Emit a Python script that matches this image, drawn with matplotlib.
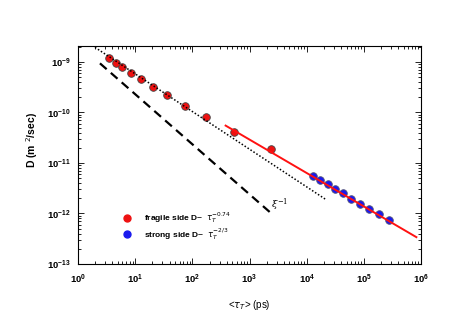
import numpy as np
import matplotlib
matplotlib.use('Agg')
import matplotlib.pyplot as plt
from matplotlib.lines import Line2D

plt.rcParams['font.family'] = ['Liberation Sans', 'DejaVu Sans']
plt.rcParams['mathtext.fontset'] = 'dejavusans'

# --- data ---
tau_fragile = [3.5, 4.6, 6.0, 8.6, 12.8, 20.7, 36, 74, 173, 527, 2370]
D_fragile = [1.22e-9, 9.7e-10, 7.9e-10, 6.0e-10, 4.5e-10, 3.16e-10, 2.2e-10,
             1.37e-10, 8.0e-11, 4.1e-11, 1.86e-11]

tau_strong = [1.3e4, 1.72e4, 2.32e4, 3.15e4, 4.35e4, 6.0e4, 8.5e4, 1.22e5,
              1.81e5, 2.74e5]
D_strong = [5.5e-12, 4.6e-12, 3.83e-12, 3.09e-12, 2.51e-12, 1.94e-12,
            1.56e-12, 1.25e-12, 9.6e-13, 7.5e-13]

# power-law guide lines (end points)
tau_fit_fragile = [1.98, 2.23e4]
D_fit_fragile = [1.95e-9, 1.85e-12]
tau_fit_strong = [382, 8.3e5]
D_fit_strong = [5.5e-11, 3.4e-13]
tau_xi = [2.42, 2600]
D_xi = [9.4e-10, 9.3e-13]

fig = plt.figure(figsize=(4.63, 3.27), dpi=100)
ax = fig.add_axes([0.1685, 0.1927, 0.7408, 0.6675])

ax.scatter(tau_fragile, D_fragile, s=30, color='#ee1111', edgecolor='#444444',
           linewidth=0.6, zorder=2)
ax.scatter(tau_strong, D_strong, s=30, color='#1a1aee', edgecolor='#555577',
           linewidth=0.6, zorder=2)

ax.plot(tau_fit_fragile, D_fit_fragile, color='black', linestyle=(0, (1, 1.3)),
        linewidth=1.1, zorder=3)
ax.plot(tau_fit_strong, D_fit_strong, color='#ff1111', linewidth=1.4, zorder=3)
ax.plot(tau_xi, D_xi, color='black', linestyle=(0, (4, 2.5)), linewidth=1.6,
        zorder=3)

ax.text(3400, 1.5e-12, r'$\xi^{-1}$', fontsize=7, family='DejaVu Serif',
        ha='center', va='center', math_fontfamily='dejavuserif')

ax.set_xscale('log')
ax.set_yscale('log')
ax.set_xlim(1, 1e6)
ax.set_ylim(1e-13, 2.1e-9)

ax.tick_params(which='both', direction='in', top=True, right=True,
               labelsize=6.8, width=0.6)
ax.tick_params(which='major', length=4)
ax.tick_params(which='minor', length=2)
ax.tick_params(axis='x', pad=6)
ax.tick_params(axis='y', pad=5)
for lab in ax.get_xticklabels() + ax.get_yticklabels():
    lab.set_fontweight('bold')
for spine in ax.spines.values():
    spine.set_linewidth(0.8)

ax.set_xlabel(r'<$\tau_T$> (ps)', fontsize=7)
ax.set_ylabel(r'D (m $^2$/sec)', fontsize=7.5, fontweight='bold')
ax.xaxis.set_label_coords(0.5, -0.155)
ax.yaxis.set_label_coords(-0.111, 0.568)

handles = [
    Line2D([], [], marker='o', linestyle='none', markersize=5,
           markerfacecolor='#ee1111', markeredgecolor='#ee1111'),
    Line2D([], [], marker='o', linestyle='none', markersize=5,
           markerfacecolor='#1a1aee', markeredgecolor='#1a1aee'),
]
labels = [r'fragile side D~  $\tau_T^{-0.74}$',
          r'strong side D~  $\tau_T^{-2/3}$']
leg = ax.legend(handles, labels, loc='upper left', bbox_to_anchor=(0.131, 0.245),
                frameon=False, fontsize=6, handletextpad=1.5, borderpad=0,
                borderaxespad=0, labelspacing=0.1, handlelength=1)
for t in leg.get_texts():
    t.set_fontweight('bold')

fig.savefig('out.png', dpi=100)
